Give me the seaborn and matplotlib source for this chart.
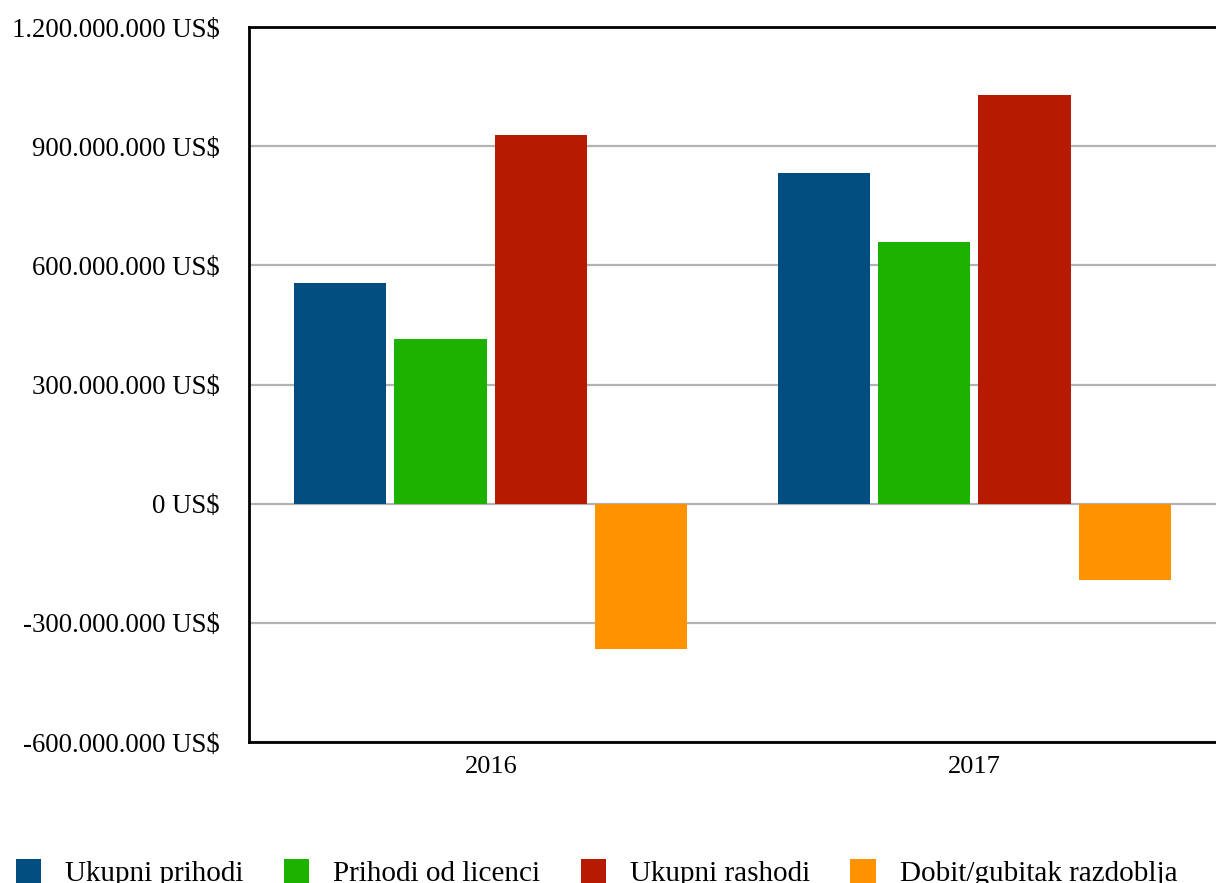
import pandas as pd
import numpy as np
import seaborn as sns
import matplotlib.pyplot as plt
from matplotlib.ticker import FuncFormatter, MultipleLocator
from matplotlib.patches import Patch

years = ['2016', '2017']
series = ['Ukupni prihodi', 'Prihodi od licenci', 'Ukupni rashodi', 'Dobit/gubitak razdoblja']
ukupni_prihodi = [556e6, 833e6]
prihodi_licence = [415e6, 659e6]
ukupni_rashodi = [928e6, 1029e6]
dobit_gubitak = [-367e6, -191e6]
colors = ['#004e80', '#1eb200', '#b61a00', '#ff9200']

df = pd.DataFrame({
    'Godina': years * 4,
    'Serija': np.repeat(series, 2),
    'Iznos': ukupni_prihodi + prihodi_licence + ukupni_rashodi + dobit_gubitak,
})

sns.set_style('white')
plt.rcParams['font.family'] = ['Liberation Serif', 'DejaVu Serif']
plt.rcParams['text.color'] = 'black'
plt.rcParams['xtick.color'] = 'black'
plt.rcParams['ytick.color'] = 'black'

fig = plt.figure(figsize=(12.16, 8.83), dpi=100)
ax = fig.add_axes([249 / 1216, 1 - 742 / 883, 1 - 249 / 1216, (742 - 27) / 883])

sns.barplot(data=df, x='Godina', y='Iznos', hue='Serija', hue_order=series,
            palette=colors, width=0.83, gap=0.08, saturation=1, legend=False,
            linewidth=0, ax=ax, zorder=3)

ax.set_ylim(-600e6, 1200e6)
ax.set_xlim(-0.5, 1.5)
ax.yaxis.set_major_locator(MultipleLocator(300e6))
ax.yaxis.set_major_formatter(FuncFormatter(lambda v, p: '{:,.0f}'.format(v).replace(',', '.') + ' US$'))
ax.grid(axis='y', color='#b3b3b3', linewidth=1.6, zorder=0)
ax.set_axisbelow(True)
ax.set_xlabel('')
ax.set_ylabel('')
ax.tick_params(axis='y', length=0, pad=21, labelsize=19.3)
ax.tick_params(axis='x', length=0, pad=10, labelsize=19)

for side in ['left', 'top', 'bottom']:
    ax.spines[side].set_color('black')
    ax.spines[side].set_linewidth(2)
ax.spines['right'].set_visible(False)

handles = [Patch(facecolor=c, edgecolor='none') for c in colors]
fig.legend(handles, series, loc='center left', bbox_to_anchor=(16 / 1216, 1 - 873 / 883),
           ncol=4, frameon=False, fontsize=21, borderpad=0, borderaxespad=0,
           handlelength=0.86, handleheight=0.86, handletextpad=0.83, columnspacing=1.38)

fig.savefig('out.png', dpi=100)
